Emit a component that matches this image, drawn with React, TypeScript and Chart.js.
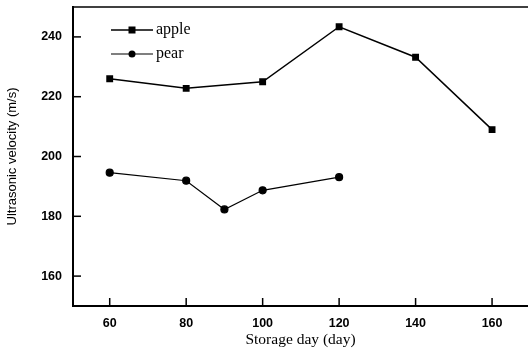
import React, { useEffect, useRef } from "react";
import { Chart, registerables } from "chart.js";

Chart.register(...registerables);

const appleDays = [60, 80, 100, 120, 140, 160];
const appleVelocity = [226, 222.8, 225, 243.4, 233.2, 209];
const pearDays = [60, 80, 90, 100, 120];
const pearVelocity = [194.6, 191.9, 182.3, 188.7, 193.1];
const xTicks = [60, 80, 100, 120, 140, 160];
const yTicks = [160, 180, 200, 220, 240];

const frameAndTicks = {
  id: "frameAndTicks",
  afterDraw(chart: any) {
    const { ctx, chartArea } = chart;
    const xs = chart.scales.x;
    const ys = chart.scales.y;
    ctx.save();
    ctx.strokeStyle = "#000";
    ctx.lineWidth = 1.6;
    ctx.beginPath();
    ctx.moveTo(chartArea.left, chartArea.top);
    ctx.lineTo(chartArea.right, chartArea.top);
    ctx.stroke();
    ctx.lineWidth = 1.5;
    xs.ticks.forEach((t: any) => {
      const px = xs.getPixelForValue(t.value);
      ctx.beginPath();
      ctx.moveTo(px, chartArea.bottom);
      ctx.lineTo(px, chartArea.bottom - 8);
      ctx.stroke();
    });
    ys.ticks.forEach((t: any) => {
      const py = ys.getPixelForValue(t.value);
      ctx.beginPath();
      ctx.moveTo(chartArea.left, py);
      ctx.lineTo(chartArea.left + 8, py);
      ctx.stroke();
    });
    const lx = chartArea.left + 38;
    let ly = chartArea.top + 23;
    chart.data.datasets.forEach((ds: any) => {
      ctx.strokeStyle = "#000";
      ctx.fillStyle = "#000";
      ctx.lineWidth = ds.borderWidth;
      ctx.beginPath();
      ctx.moveTo(lx, ly);
      ctx.lineTo(lx + 42, ly);
      ctx.stroke();
      const cx = lx + 21;
      if (ds.pointStyle === "rect") {
        ctx.fillRect(cx - 3.5, ly - 3.5, 7, 7);
      } else {
        ctx.beginPath();
        ctx.arc(cx, ly, 3.5, 0, Math.PI * 2);
        ctx.fill();
      }
      ctx.font = "16px 'Liberation Serif'";
      ctx.textBaseline = "middle";
      ctx.textAlign = "left";
      ctx.fillText(ds.label, lx + 45, ly);
      ly += 24;
    });
    ctx.restore();
  },
};

export default function App() {
  const ref = useRef<HTMLCanvasElement>(null);
  useEffect(() => {
    document.body.style.margin = "0";
    const chart = new Chart(ref.current!, {
      type: "line",
      data: {
        datasets: [
          {
            label: "apple",
            data: appleDays.map((d, i) => ({ x: d, y: appleVelocity[i] })),
            borderColor: "#000",
            backgroundColor: "#000",
            borderWidth: 1.5,
            pointStyle: "rect",
            pointRadius: 3.8,
            tension: 0,
          },
          {
            label: "pear",
            data: pearDays.map((d, i) => ({ x: d, y: pearVelocity[i] })),
            borderColor: "#000",
            backgroundColor: "#000",
            borderWidth: 1.2,
            pointStyle: "circle",
            pointRadius: 3.5,
            tension: 0,
          },
        ],
      },
      plugins: [frameAndTicks],
      options: {
        animation: false,
        responsive: false,
        maintainAspectRatio: false,
        layout: { autoPadding: false, padding: { top: 7, right: 0, left: 0, bottom: 0 } },
        plugins: { legend: { display: false }, tooltip: { enabled: false } },
        scales: {
          x: {
            type: "linear",
            min: 50.4,
            max: 169.4,
            afterBuildTicks: (s: any) => {
              s.ticks = xTicks.map((v) => ({ value: v }));
            },
            afterFit: (s: any) => {
              s.height = 49;
              s.paddingLeft = 0;
              s.paddingRight = 0;
            },
            grid: { display: true, drawOnChartArea: false, drawTicks: false },
            border: { display: true, color: "#000", width: 2 },
            ticks: {
              color: "#000",
              padding: 10,
              font: { family: "'Liberation Sans'", size: 12.5, weight: "bold" },
            },
            title: {
              display: true,
              text: "Storage day (day)",
              color: "#000",
              padding: { top: 4, bottom: 6 },
              font: { family: "'Liberation Serif'", size: 15.5 },
            },
          },
          y: {
            type: "linear",
            min: 150,
            max: 250,
            afterBuildTicks: (s: any) => {
              s.ticks = yTicks.map((v) => ({ value: v }));
            },
            afterFit: (s: any) => {
              s.width = 73;
              s.paddingTop = 0;
              s.paddingBottom = 0;
            },
            grid: { display: true, drawOnChartArea: false, drawTicks: false },
            border: { display: true, color: "#000", width: 2 },
            ticks: {
              color: "#000",
              padding: 11,
              font: { family: "'Liberation Sans'", size: 12.5, weight: "bold" },
            },
            title: {
              display: true,
              text: "Ultrasonic velocity (m/s)",
              color: "#000",
              padding: { top: 5, bottom: 0 },
              font: { family: "'Liberation Sans'", size: 13 },
            },
          },
        },
      },
    } as any);
    return () => chart.destroy();
  }, []);
  return <canvas ref={ref} width={528} height={355} style={{ display: "block" }} />;
}
